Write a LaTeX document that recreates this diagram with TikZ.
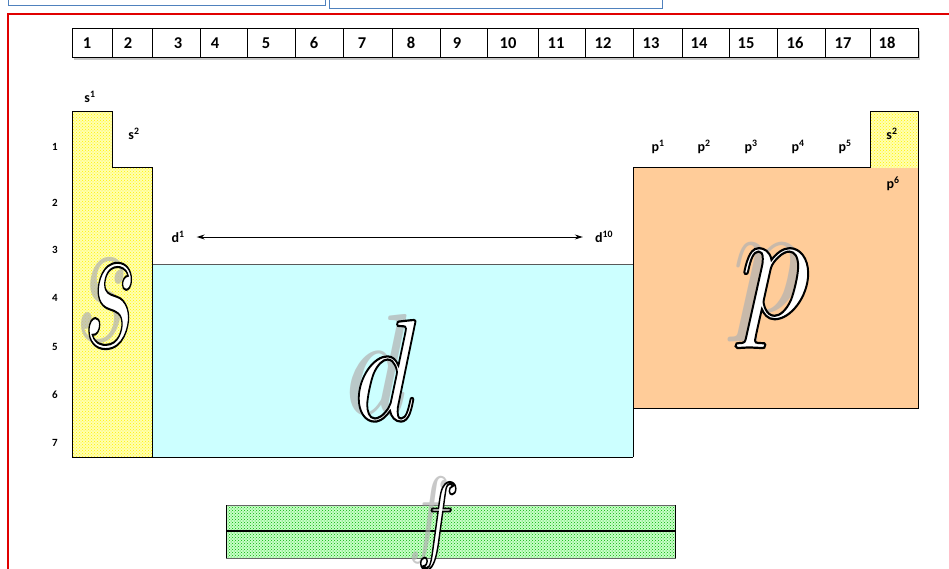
\documentclass[tikz,border=0pt]{standalone}
\usepackage{fontspec}
\usepackage{graphicx}
\newfontfamily\hdr{Carlito}
\usetikzlibrary{patterns,arrows.meta}
\definecolor{frame}{HTML}{E00000}
\definecolor{bluebox}{HTML}{4F81BD}
\definecolor{dcyan}{HTML}{CCFFFF}
\definecolor{ppeach}{HTML}{FFCC99}
\definecolor{syellow}{HTML}{FFFFB0}
\definecolor{fgreen}{HTML}{C8FFC8}
\tikzset{
  hcell/.style={draw=black, line width=0.9pt, fill=white},
  htext/.style={font=\hdr\bfseries\fontsize{16.5}{16.5}\selectfont, inner sep=0pt},
  rowlab/.style={font=\hdr\bfseries\fontsize{11}{11}\selectfont, inner sep=0pt},
  orb/.style={font=\hdr\bfseries\fontsize{14}{14}\selectfont, inner sep=0pt},
  blk/.style={draw=black, line width=1pt},
}
\newcommand{\outl}[2]{\special{pdf:literal direct 2 Tr #1 w 0 0 0 RG 1 1 1 rg}#2\special{pdf:literal direct 0 Tr}}
% big outlined letter: #1 position, #2 width, #3 height, #4 letter, #5 name, #6 stroke
\newcommand{\bigletter}[6]{%
  \node[inner sep=0pt, text=gray!60, opacity=0.7] (#5s) at ([xshift=-8pt,yshift=6pt]#1) {\resizebox*{#2}{#3}{$#4$}};
  \node[inner sep=0pt] (#5) at (#1) {\resizebox*{#2}{#3}{\outl{#6}{$#4$}}};
}
\begin{document}
\begin{tikzpicture}[x=1pt,y=-1pt]
\useasboundingbox (0,0) rectangle (949,569);
\fill[white] (0,0) rectangle (949,569);
% top blue boxes
\draw[bluebox, line width=1pt] (8,-5) -- (8,6) -- (325,6) -- (325,-5);
\draw[bluebox, line width=1pt] (329,-5) -- (329,9) -- (662,9) -- (662,-5);
% red frame
\draw[frame, line width=1.3pt] (8,575) -- (8,14) -- (955,14);
% header shadow
\fill[gray!45] (74,31) rectangle (920,60);
% header cells
\foreach \a/\b/\t/\c in {72/112/1/87,112/152/2/128,152/200/3/178,200/247/4/215,247/295/5/266,295/343/6/314,343/392/7/362,392/440/8/411,440/487/9/457,487/538/10/508,538/585/11/556,585/633/12/603,633/682/13/651,682/729/14/699,729/777/15/746,777/825/16/795,825/870/17/843,870/918/18/887}{
  \draw[hcell] (\a,28) rectangle (\b,57);
  \node[htext] (g\t) at (\c,43) {\t};
}
% s block
\fill[syellow] (72,112) -- (112,112) -- (112,168) -- (152,168) -- (152,457) -- (72,457) -- cycle;
\fill[pattern=crosshatch dots, pattern color=yellow!90!orange] (72,112) -- (112,112) -- (112,168) -- (152,168) -- (152,457) -- (72,457) -- cycle;
% d block
\fill[dcyan] (152,264) rectangle (633,457);
\draw[gray!70!black, line width=0.8pt] (152,264) -- (633,264);
% p block
\fill[ppeach] (633,168) rectangle (918,408);
\draw[blk] (633,457) -- (633,168) -- (918,168) -- (918,408) -- (633,408);
% He cell
\fill[syellow] (870,112) rectangle (918,168);
\fill[pattern=crosshatch dots, pattern color=yellow!90!orange] (870,112) rectangle (918,168);
\draw[blk] (870,168) -- (870,112) -- (918,112) -- (918,168);
% s outline and d bottom
\draw[blk] (152,264) -- (152,168) -- (112,168) -- (112,112) -- (72,112) -- (72,457) -- (633,457);
\draw[blk] (152,264) -- (152,457);
% f block
\fill[fgreen] (226,505) rectangle (675,558);
\fill[pattern=crosshatch dots, pattern color=green!70!black] (226,505) rectangle (675,558);
\draw[gray!80!black, line width=0.8pt] (226,505) rectangle (675,558);
\draw[black, line width=1.2pt] (226,531) -- (675,531);
\draw[black, line width=1pt] (226,505) -- (226,558) (675,505) -- (675,558);
% row labels
\foreach \n/\y in {1/147,2/203,3/250,4/298,5/347,6/395,7/443}{
  \node[rowlab] (r\n) at (55,\y) {\n};
}
% orbital labels
\node[orb] (s1) at (90,97) {s\textsuperscript{1}};
\node[orb] (s2) at (134,134) {s\textsuperscript{2}};
\node[orb] (d1) at (178,237) {d\textsuperscript{1}};
\node[orb] (d10) at (604,237) {d\textsuperscript{10}};
\draw[{Stealth[length=8pt,width=5pt]}-{Stealth[length=8pt,width=5pt]}, line width=1pt, shorten <=12pt, shorten >=12pt] (d1.east) -- (d10.west);
\node[orb] (p1) at (658,147) {p\textsuperscript{1}};
\node[orb] (p2) at (704,147) {p\textsuperscript{2}};
\node[orb] (p3) at (751,147) {p\textsuperscript{3}};
\node[orb] (p4) at (798,147) {p\textsuperscript{4}};
\node[orb] (p5) at (845,147) {p\textsuperscript{5}};
\node[orb] (he) at (892,134) {s\textsuperscript{2}};
\node[orb] (p6) at (893,184) {p\textsuperscript{6}};
% big letters
\coordinate (sc) at (110,306);
\coordinate (dc) at (385,370);
\coordinate (pc) at (775,299);
\coordinate (fc) at (438,526);
\bigletter{sc}{54pt}{82pt}{s}{S}{0.11}
\bigletter{dc}{62pt}{100pt}{d}{D}{0.15}
\bigletter{pc}{70pt}{98pt}{p}{P}{0.14}
\bigletter{fc}{42pt}{86pt}{f}{F}{0.2}
\end{tikzpicture}
\end{document}
